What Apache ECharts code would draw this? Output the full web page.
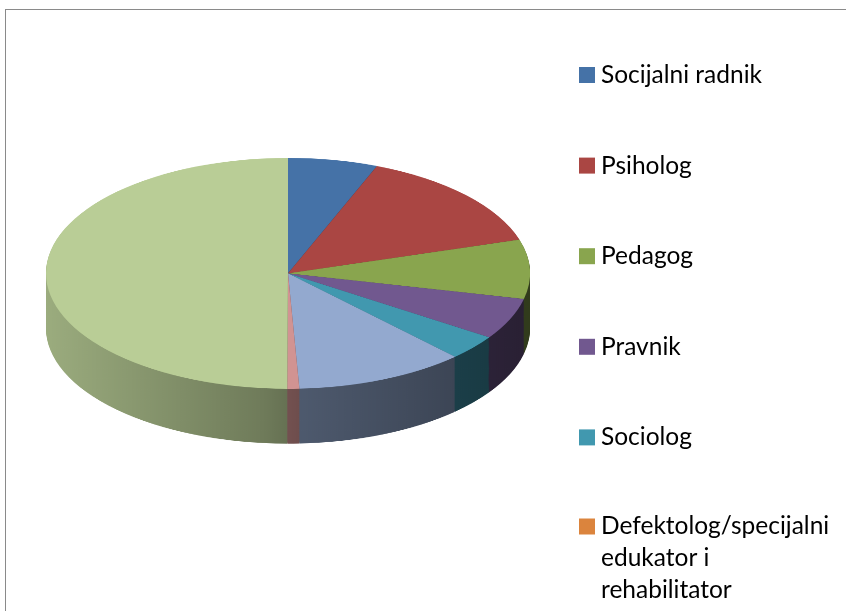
<!DOCTYPE html>
<html>
<head>
<meta charset="utf-8">
<script src="https://cdn.jsdelivr.net/npm/echarts@6/dist/echarts.min.js"></script>
<style>
  html, body { margin: 0; padding: 0; background: #fff; overflow: hidden; }
  #wrap { position: relative; width: 846px; height: 611px; overflow: hidden; }
  .frame { position: absolute; left: 5px; top: 9px; width: 900px; height: 700px; border: 1px solid #8a8a8a; }
  /* pie is drawn round, then flattened into the tilted look */
  #pie { position: absolute; left: 0; top: 0; width: 846px; height: 960px; transform: scaleY(0.477); transform-origin: 0 0; }
  #legend { position: absolute; left: 0; top: 0; width: 846px; height: 611px; }
</style>
</head>
<body>
<div id="wrap">
  <div class="frame"></div>
  <div id="pie"></div>
  <div id="legend"></div>
</div>
<script>
  const categories = ['Socijalni radnik', 'Psiholog', 'Pedagog', 'Pravnik', 'Sociolog',
    'Defektolog/specijalni edukator i rehabilitator', 'Andragog', 'Lekar', 'Drugo'];
  const shares = [6.0, 14.3, 8.3, 5.8, 3.5, 0, 11.4, 0.8, 50.0];
  const colors = ['#4572A7', '#AA4643', '#89A54E', '#71588F', '#4198AF', '#DB843D', '#93A9CF', '#D19392', '#B9CD96'];

  function shade(hex, f) {
    const n = parseInt(hex.slice(1), 16);
    return 'rgb(' + [(n >> 16) & 255, (n >> 8) & 255, n & 255].map(v => Math.round(v * f)).join(',') + ')';
  }

  // side wall: lighter on the left, darker to the right
  function wall(hex) {
    return new echarts.graphic.LinearGradient(46, 0, 530, 0, [
      { offset: 0, color: shade(hex, 0.84) },
      { offset: 0.45, color: shade(hex, 0.6) },
      { offset: 0.52, color: shade(hex, 0.53) },
      { offset: 0.85, color: shade(hex, 0.41) },
      { offset: 1, color: shade(hex, 0.36) }
    ], true);
  }

  const cx = 288, cy = 573, R = 242, depth = 115, step = 2;

  function layer(offset, colorFn) {
    return {
      type: 'pie',
      silent: true,
      radius: R,
      center: [cx, cy + offset],
      startAngle: 90,
      label: { show: false },
      labelLine: { show: false },
      emphasis: { disabled: true },
      itemStyle: { borderWidth: 0 },
      data: categories.map((name, i) => ({
        name: name,
        value: shares[i],
        itemStyle: { color: colorFn(colors[i]) }
      }))
    };
  }

  const series = [];
  for (let d = depth; d > 0; d -= step) {
    series.push(layer(d, wall));
  }
  series.push(layer(0, c => c));

  const pieChart = echarts.init(document.getElementById('pie'));
  pieChart.setOption({ animation: false, series: series });

  const legendBase = {
    orient: 'vertical',
    left: 579,
    padding: 0,
    itemWidth: 16,
    itemHeight: 16,
    itemGap: 58.6,
    icon: 'rect',
    selectedMode: false,
    textStyle: { fontFamily: 'Lato', fontSize: 24.5, color: '#000', lineHeight: 32, padding: [0, 0, 0, 1] }
  };

  const legendChart = echarts.init(document.getElementById('legend'));
  legendChart.setOption({
    animation: false,
    color: colors,
    legend: [
      Object.assign({}, legendBase, { top: 59, data: categories.slice(0, 5) }),
      // the wrapped name: two blank lines on top keep its first line level with the square
      Object.assign({}, legendBase, {
        top: 446.5,
        data: categories.slice(5),
        formatter: function (n) {
          return n.indexOf(' edukator') > 0
            ? '\n\n' + n.replace(' edukator', '\nedukator').replace(' i rehabilitator', ' i\nrehabilitator')
            : n;
        }
      })
    ],
    series: [{
      type: 'pie',
      silent: true,
      radius: 0,
      center: [-50, -50],
      label: { show: false },
      data: categories.map((name, i) => ({ name: name, value: shares[i] }))
    }]
  });
</script>
</body>
</html>
